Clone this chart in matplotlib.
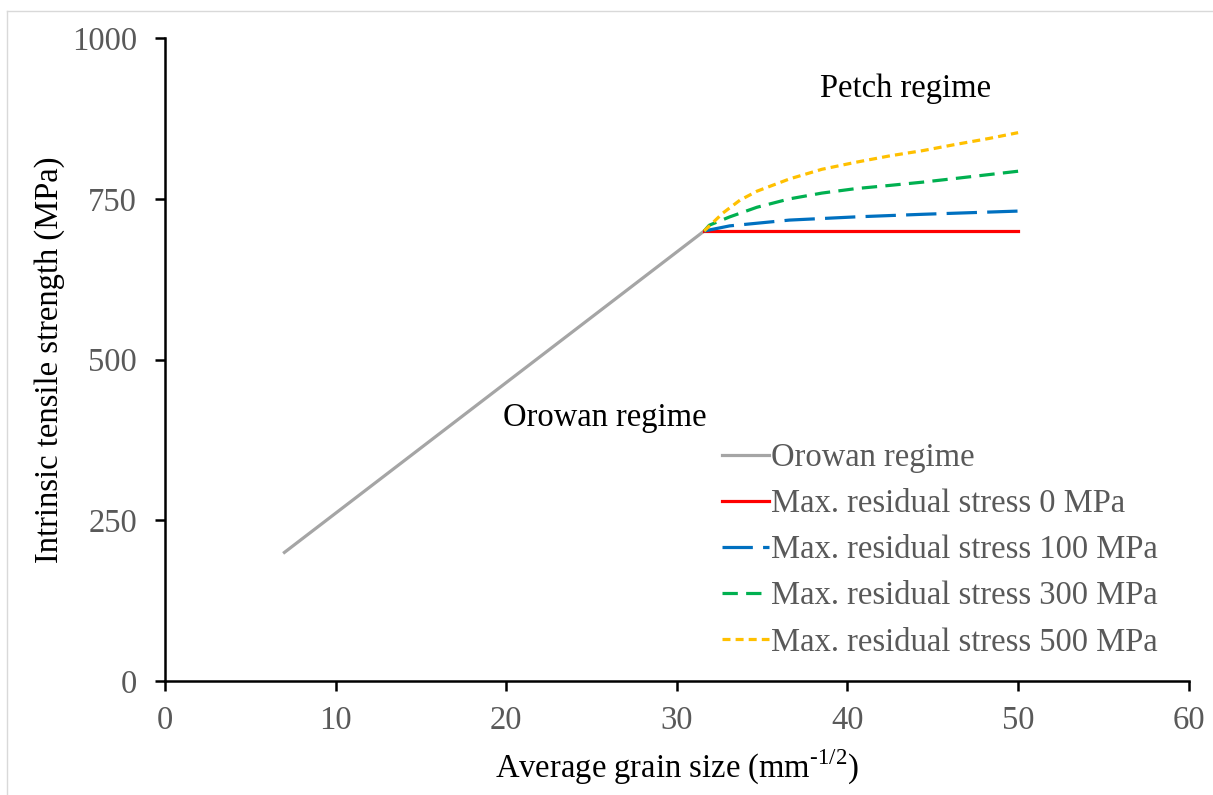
import numpy as np
import matplotlib
matplotlib.use("Agg")
import matplotlib.pyplot as plt
from matplotlib.lines import Line2D

plt.rcParams['font.family'] = ['Liberation Serif', 'DejaVu Serif']

# data
orowan_x = [7.0, 31.6]
orowan_y = [200, 700]

petch_x0 = [31.6, 50.0]
petch_y0 = [700, 700]

petch_x100 = [31.6, 33.1, 36.6, 40.5, 44.4, 50.0]
petch_y100 = [700, 708, 717, 722, 726, 731]

petch_x300 = [31.6, 31.9, 33.1, 34.7, 36.6, 38.5, 40.5, 42.5, 44.4, 46.4, 50.0]
petch_y300 = [700, 709, 722, 737, 750, 759, 766, 771, 776, 782, 793]

petch_x500 = [31.6, 32.7, 33.7, 34.7, 36.6, 38.5, 40.5, 42.5, 44.4, 46.4, 48.3, 50.0]
petch_y500 = [700, 728, 748, 762, 781, 796, 807, 817, 825, 835, 844, 853]

labels = ["Orowan regime", "Max. residual stress 0 MPa", "Max. residual stress 100 MPa",
          "Max. residual stress 300 MPa", "Max. residual stress 500 MPa"]

grey = '#A5A5A5'
red = '#FF0000'
blue = '#0070C0'
green = '#00B050'
yellow = '#FFC000'
tickgrey = '#595959'
fs = 23.5

fig = plt.figure(figsize=(12.13, 7.95), dpi=100)
ax = fig.add_axes([0.136, 0.1434, 0.844, 0.8086])

lw = 2.3
ax.plot(orowan_x, orowan_y, color=grey, lw=lw, label=labels[0])
ax.plot(petch_x0, petch_y0, color=red, lw=lw, label=labels[1])
ax.plot(petch_x100, petch_y100, color=blue, lw=lw, dashes=(9.5, 3.2), label=labels[2])
ax.plot(petch_x300, petch_y300, color=green, lw=lw, dashes=(4.8, 2.6), label=labels[3])
ax.plot(petch_x500, petch_y500, color=yellow, lw=lw, dashes=(2.5, 1.6), label=labels[4])

ax.set_xlim(0, 60)
ax.set_ylim(0, 1000)
ax.set_xticks(np.arange(0, 61, 10))
ax.set_yticks([0, 250, 500, 750, 1000])
for s in ['top', 'right']:
    ax.spines[s].set_visible(False)
for s in ['left', 'bottom']:
    ax.spines[s].set_linewidth(1.8)
    ax.spines[s].set_color('black')
ax.tick_params(direction='out', length=7, width=1.8, colors='black',
               labelcolor=tickgrey, labelsize=fs)
ax.tick_params(axis='x', pad=11)
ax.tick_params(axis='y', pad=13)

ax.set_xlabel("Average grain size (mm$^{\\mathregular{\u20101/2}}$)", fontsize=fs, labelpad=8)
ax.set_ylabel("Intrinsic tensile strength (MPa)", fontsize=fs, labelpad=5)

ax.text(25.8, 409, "Orowan regime", fontsize=fs, ha='center', va='center')
ax.text(43.4, 922, "Petch regime", fontsize=fs, ha='center', va='center')

leg = ax.legend(loc='lower left', bbox_to_anchor=(0.531, 0.016), frameon=False,
                fontsize=fs, handlelength=1.45, handletextpad=0.05,
                labelspacing=0.48, labelcolor=tickgrey, borderaxespad=0)

# thin frame around chart area
fig.add_artist(Line2D([7 / 1213, 1], [1 - 11 / 795, 1 - 11 / 795], color='#D9D9D9', lw=1,
                      transform=fig.transFigure))
fig.add_artist(Line2D([7 / 1213, 7 / 1213], [0, 1 - 11 / 795], color='#D9D9D9', lw=1,
                      transform=fig.transFigure))

fig.savefig('out.png', dpi=100)
